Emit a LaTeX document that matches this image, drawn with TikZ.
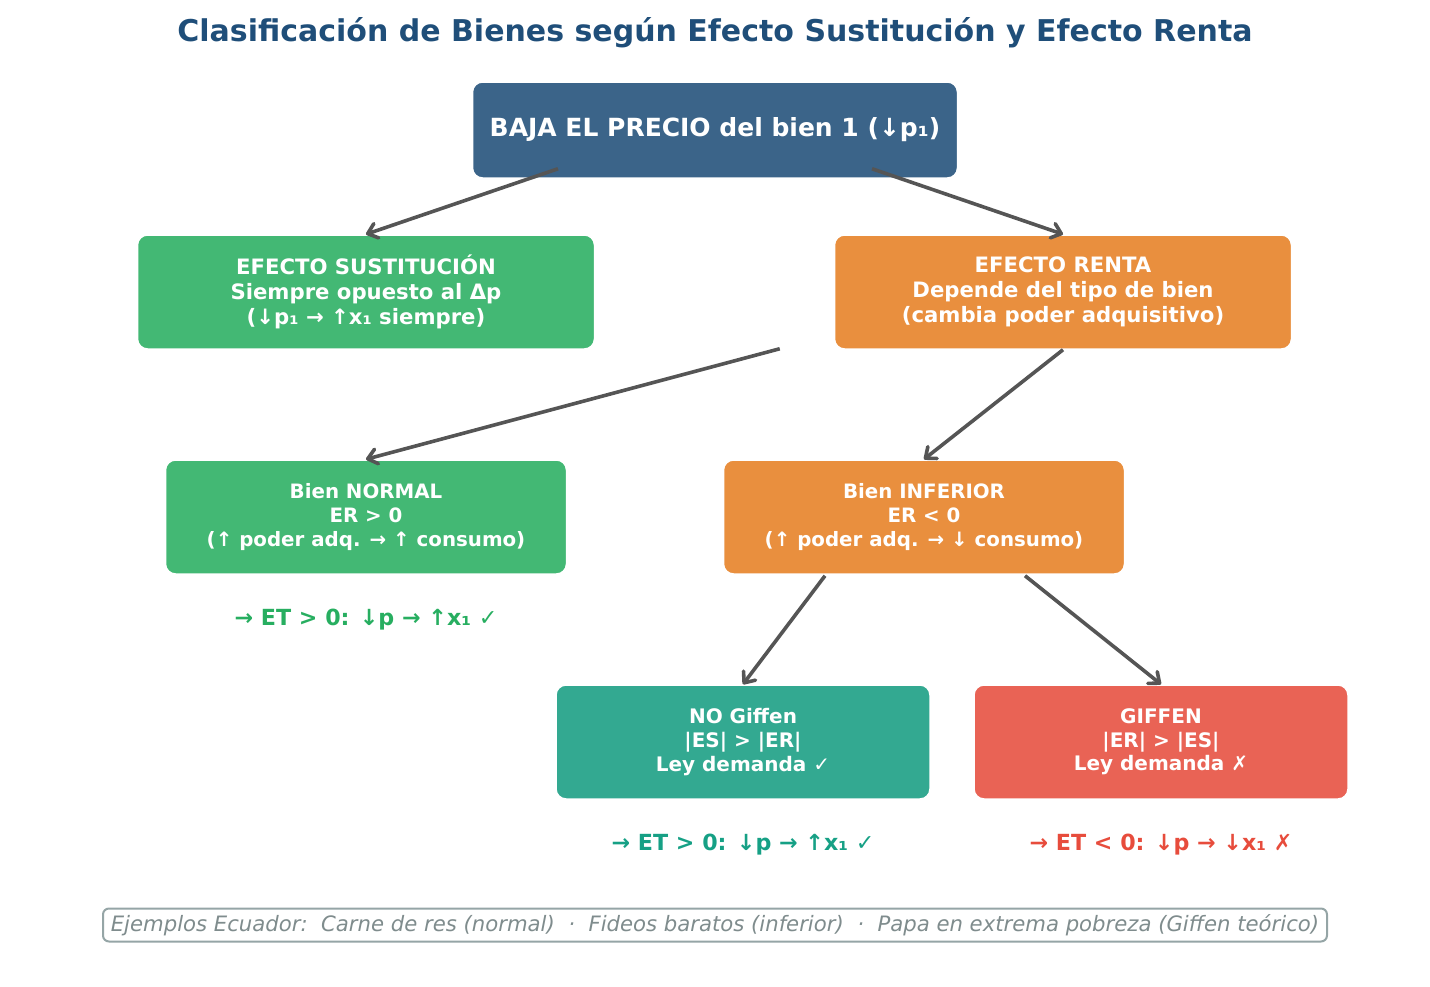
\documentclass[tikz,border=0pt]{standalone}
\usepackage{fontspec}
\setmainfont{DejaVu Sans}
\usetikzlibrary{arrows.meta,calc}

\definecolor{titulo}{HTML}{1F4E79}
\definecolor{azul}{HTML}{3B6489}
\definecolor{verde}{HTML}{43B874}
\definecolor{naranja}{HTML}{E98F3E}
\definecolor{turquesa}{HTML}{33A991}
\definecolor{rojo}{HTML}{E96355}
\definecolor{verdeT}{HTML}{27AE60}
\definecolor{turquesaT}{HTML}{16A085}
\definecolor{rojoT}{HTML}{E74C3C}
\definecolor{flechagris}{HTML}{555555}
\definecolor{gristexto}{HTML}{7F8C8D}
\definecolor{grisborde}{HTML}{95A5A6}

\newcommand{\ok}{{\mdseries ✓}}
\newcommand{\no}{{\mdseries ✗}}

\tikzset{
  caja/.style={rounded corners=5pt, draw=white, line width=0.75pt,
    text=white, align=center, inner sep=0pt},
  flecha/.style={draw=flechagris, line width=1.8pt,
    -{Straight Barb[length=4.5pt,width=7.5pt,round]}},
}

\begin{document}
\begin{tikzpicture}[x=0.5pt,y=-0.5pt]
  \useasboundingbox (0,0) rectangle (1430,986);

  \node[text=titulo, font=\fontsize{15}{18}\selectfont\bfseries] (titulo) at (715,33)
    {Clasificación de Bienes según Efecto Sustitución y Efecto Renta};

  % cajas
  \begin{scope}[every node/.style={caja}]
    \node[fill=azul, minimum width=242.5pt, minimum height=48pt,
      font=\fontsize{12.5}{15}\selectfont\bfseries] (precio) at (715,130)
      {\raisebox{-1pt}{BAJA EL PRECIO del bien 1 (↓p₁)}};

    \begin{scope}[every node/.append style={minimum width=228.5pt, minimum height=57pt,
        font=\fontsize{10.6}{12.6}\selectfont\bfseries}]
      \node[fill=verde]   (sust)  at (366,292)
        {EFECTO SUSTITUCIÓN\\Siempre opuesto al Δp\\(↓p₁ → ↑x₁ siempre)};
      \node[fill=naranja] (renta) at (1063,292)
        {EFECTO RENTA\\Depende del tipo de bien\\(cambia poder adquisitivo)};
    \end{scope}

    \begin{scope}[every node/.append style={minimum width=200.5pt, minimum height=57pt,
        font=\fontsize{9.9}{11.8}\selectfont\bfseries}]
      \node[fill=verde]   (normal)   at (366,517)
        {Bien NORMAL\\ER > 0\\(↑ poder adq. → ↑ consumo)};
      \node[fill=naranja] (inferior) at (924,517)
        {Bien INFERIOR\\ER < 0\\(↑ poder adq. → ↓ consumo)};
    \end{scope}

    \begin{scope}[every node/.append style={minimum width=187pt, minimum height=57pt,
        font=\fontsize{10}{11.8}\selectfont\bfseries}]
      \node[fill=turquesa] (nogiffen) at (743,742)
        {NO Giffen\\|ES| > |ER|\\Ley demanda \ok};
      \node[fill=rojo]     (giffen)   at (1161,742)
        {GIFFEN\\|ER| > |ES|\\Ley demanda \no};
    \end{scope}
  \end{scope}

  % efecto total
  \begin{scope}[every node/.style={font=\fontsize{11.1}{13}\selectfont\bfseries}]
    \node[text=verdeT]    (etnormal) at (366,620)  {→ ET > 0: ↓p → ↑x₁ \ok};
    \node[text=turquesaT] (etnog)    at (743,845)  {→ ET > 0: ↓p → ↑x₁ \ok};
    \node[text=rojoT]     (etgiffen) at (1161,845) {→ ET < 0: ↓p → ↓x₁ \no};
  \end{scope}

  % flechas
  \begin{scope}[every edge/.style={flecha}]
    \path ($(precio.south)+(-157,-10)$)   edge (sust.north);
    \path ($(precio.south)+(157,-10)$)    edge (renta.north);
    \path ($(renta.south west)+(-54,-1)$) edge (normal.north);
    \path (renta.south)                   edge (inferior.north);
    \path ($(inferior.south)+(-99,1)$)    edge (nogiffen.north);
    \path ($(inferior.south)+(101,1)$)    edge (giffen.north);
  \end{scope}

  \node[draw=grisborde, line width=1pt, rounded corners=3pt, fill=white,
    minimum width=612pt, minimum height=16.5pt, inner sep=0pt, text=gristexto,
    font=\fontsize{10.6}{12}\selectfont\itshape] (ejemplos) at (715,925)
    {Ejemplos Ecuador:\ \ Carne de res (normal)\ \ ·\ \ Fideos baratos (inferior)\ \ ·\ \ Papa en extrema pobreza (Giffen teórico)};
\end{tikzpicture}
\end{document}
